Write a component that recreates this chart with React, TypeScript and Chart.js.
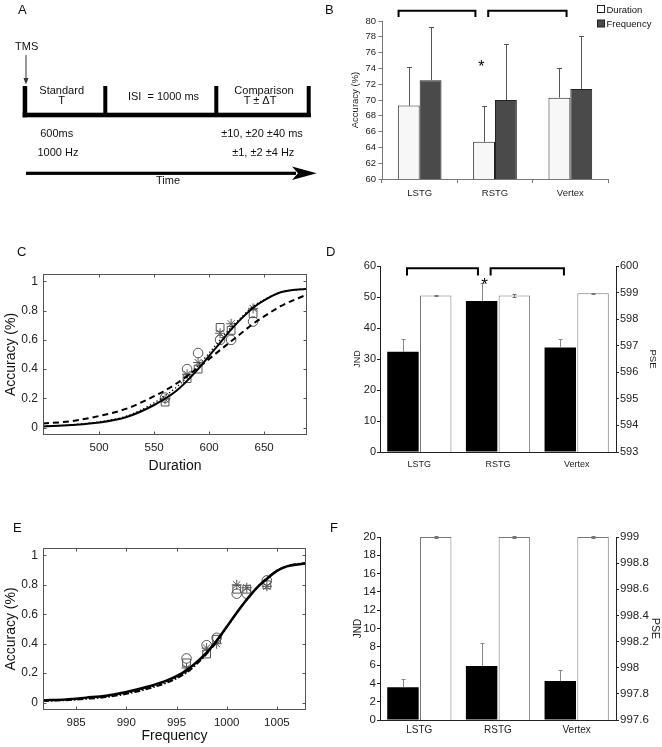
import React, { useEffect, useRef } from "react";
import { Chart, registerables } from "chart.js";

Chart.register(...registerables);

const FONT = "'Liberation Sans', Arial, Helvetica, sans-serif";
Chart.defaults.font.family = FONT;
Chart.defaults.color = "#222";

// ---------------- shared ----------------
const regions = ["LSTG", "RSTG", "Vertex"];
const accTicks = [0, 0.2, 0.4, 0.6, 0.8, 1];

// ---------------- Panel B ----------------
const bSeries = ["Duration", "Frequency"];
const bDuration = [69.3, 64.7, 70.3];
const bDurationErr = [4.9, 4.6, 3.7];
const bFrequency = [72.5, 70.0, 71.4];
const bFrequencyErr = [6.7, 7.1, 6.7];
const bYTicks = [60, 62, 64, 66, 68, 70, 72, 74, 76, 78, 80];
// [from index, to index, top value, end value]
const bBrackets = [
  [-0.28, 0.74, 81.3, 80.5],
  [0.91, 1.95, 81.3, 80.5],
];
const bStars = [[0.82, 74.7]];

// ---------------- Panel C ----------------
const cCurveX = [449, 475, 500, 525, 550, 570, 590, 600, 610, 620, 630, 640, 650, 665, 689];
const cSolid = [0.008, 0.018, 0.035, 0.073, 0.155, 0.25, 0.4, 0.49, 0.58, 0.67, 0.75, 0.82, 0.87, 0.925, 0.95];
const cDashed = [0.028, 0.045, 0.08, 0.13, 0.215, 0.3, 0.41, 0.47, 0.53, 0.59, 0.65, 0.71, 0.76, 0.83, 0.91];
const cDotted = [0.01, 0.02, 0.04, 0.08, 0.17, 0.275, 0.425, 0.51, 0.6, 0.685, 0.76, 0.83, 0.875, 0.925, 0.95];
const cPointX = [560, 580, 590, 610, 620, 640];
const cCircle = [0.205, 0.4, 0.51, 0.6, 0.6, 0.725];
const cSquare = [0.175, 0.335, 0.4, 0.685, 0.665, 0.78];
const cStar = [0.195, 0.365, 0.445, 0.645, 0.71, 0.815];
const cXTicks = [500, 550, 600, 650];

// ---------------- Panel D ----------------
const dJnd = [32.3, 48.7, 33.7];
const dJndErr = [4.3, 5.7, 2.9];
const dPse = [598.89, 598.89, 598.97];
const dPseErr = [0.03, 0.05, 0.02];
const dJndTicks = [0, 10, 20, 30, 40, 50, 60];
const dPseTicks = [593, 594, 595, 596, 597, 598, 599, 600];
const dBrackets = [
  [-0.157, 0.745, 59.26, 56.9],
  [0.906, 1.838, 59.26, 56.9],
];
const dStars = [[0.83, 55.6]];

// ---------------- Panel E ----------------
const eCurveX = [981.7, 984, 986, 988, 990, 992, 994, 995, 996, 997, 998, 999, 1000, 1001, 1002, 1003, 1004, 1005, 1006, 1007.9];
const eSolid = [0.016, 0.022, 0.034, 0.047, 0.072, 0.106, 0.15, 0.18, 0.22, 0.275, 0.34, 0.42, 0.515, 0.61, 0.7, 0.78, 0.84, 0.895, 0.925, 0.945];
const eDashDot = [0.012, 0.017, 0.026, 0.038, 0.06, 0.092, 0.135, 0.165, 0.205, 0.262, 0.332, 0.415, 0.512, 0.61, 0.7, 0.78, 0.845, 0.895, 0.927, 0.948];
const eDotted = [0.013, 0.019, 0.029, 0.042, 0.065, 0.098, 0.142, 0.172, 0.212, 0.268, 0.336, 0.418, 0.513, 0.61, 0.7, 0.78, 0.842, 0.895, 0.926, 0.947];
const ePointX = [996, 998, 999, 1001, 1002, 1004];
const eCircle = [0.3, 0.39, 0.44, 0.74, 0.74, 0.83];
const eSquare = [0.27, 0.33, 0.43, 0.77, 0.77, 0.8];
const eStar = [0.235, 0.37, 0.4, 0.8, 0.78, 0.79];
const eXTicks = [985, 990, 995, 1000, 1005];

// ---------------- Panel F ----------------
const fJnd = [3.58, 5.91, 4.27];
const fJndErr = [0.87, 2.48, 1.2];
const fPse = [999.0, 999.0, 999.0];
const fPseErr = [0.008, 0.005, 0.008];
const fJndTicks = [0, 2, 4, 6, 8, 10, 12, 14, 16, 18, 20];
const fPseTicks = [997.6, 997.8, 998, 998.2, 998.4, 998.6, 998.8, 999];

// ---------------- helpers ----------------
const pts = (xs: number[], ys: number[]) => xs.map((x, i) => ({ x, y: ys[i] }));
const fit = (size: number) => (scale: any) => {
  if (scale.isHorizontal()) scale.height = size;
  else scale.width = size;
};
const setTicks = (values: number[]) => (scale: any) => {
  scale.ticks = values.map((value) => ({ value }));
};
const plain = (v: any) => String(v);

const errorBarPlugin = {
  id: "errorBars",
  afterDatasetsDraw(chart: any) {
    const ctx = chart.ctx;
    chart.data.datasets.forEach((ds: any, di: number) => {
      if (!ds.errors) return;
      const meta = chart.getDatasetMeta(di);
      const ys = chart.scales[meta.yAxisID];
      meta.data.forEach((el: any, i: number) => {
        const v = ds.data[i];
        const e = ds.errors[i];
        const x = Math.round(el.x) + 0.5;
        const top = Math.round(ys.getPixelForValue(v + e)) + 0.5;
        const bot = ys.getPixelForValue(ds.errBoth ? v - e : v);
        const cap = ds.errCap ?? 2.5;
        ctx.save();
        ctx.strokeStyle = ds.errColor || "#555";
        ctx.lineWidth = 1;
        ctx.beginPath();
        ctx.moveTo(x, bot);
        ctx.lineTo(x, top);
        ctx.moveTo(x - cap, top);
        ctx.lineTo(x + cap, top);
        if (ds.errBoth) {
          const b = Math.round(bot) + 0.5;
          ctx.moveTo(x - cap, b);
          ctx.lineTo(x + cap, b);
        }
        ctx.stroke();
        ctx.restore();
      });
    });
  },
};

const makeAnnotations = (brackets: number[][], stars: number[][], starSize: number) => ({
  id: "annotations",
  afterDraw(chart: any) {
    const { ctx, scales } = chart;
    const xs = scales.x;
    const ys = scales.y;
    ctx.save();
    ctx.strokeStyle = "#000";
    ctx.lineWidth = 2;
    brackets.forEach(([a, b, yTop, yEnd]) => {
      const x0 = xs.getPixelForValue(a);
      const x1 = xs.getPixelForValue(b);
      const t = ys.getPixelForValue(yTop);
      const e = ys.getPixelForValue(yEnd);
      ctx.beginPath();
      ctx.moveTo(x0, e);
      ctx.lineTo(x0, t);
      ctx.lineTo(x1, t);
      ctx.lineTo(x1, e);
      ctx.stroke();
    });
    ctx.fillStyle = "#000";
    ctx.font = `${starSize}px ${FONT}`;
    ctx.textAlign = "center";
    ctx.textBaseline = "alphabetic";
    stars.forEach(([a, v]) => {
      ctx.fillText("*", xs.getPixelForValue(a), ys.getPixelForValue(v) + 0.58 * starSize);
    });
    ctx.restore();
  },
});

const boxPlugin = {
  id: "matlabBox",
  afterDraw(chart: any) {
    const { ctx, chartArea: a, scales } = chart;
    const x = scales.x;
    const y = scales.y;
    const L = 3;
    ctx.save();
    ctx.strokeStyle = "#555";
    ctx.lineWidth = 1;
    const l = Math.round(a.left) + 0.5;
    const t = Math.round(a.top) + 0.5;
    const r = Math.round(a.right) - 0.5;
    const b = Math.round(a.bottom) - 0.5;
    ctx.strokeRect(l, t, r - l, b - t);
    ctx.beginPath();
    x.ticks.forEach((tk: any) => {
      const p = Math.round(x.getPixelForValue(tk.value)) + 0.5;
      ctx.moveTo(p, b);
      ctx.lineTo(p, b - L);
      ctx.moveTo(p, t);
      ctx.lineTo(p, t + L);
    });
    y.ticks.forEach((tk: any) => {
      const p = Math.round(y.getPixelForValue(tk.value)) + 0.5;
      ctx.moveTo(l, p);
      ctx.lineTo(l + L, p);
      ctx.moveTo(r, p);
      ctx.lineTo(r - L, p);
    });
    ctx.stroke();
    ctx.restore();
  },
};

const baseOptions = () => ({
  responsive: false,
  animation: false as const,
  events: [],
  plugins: { legend: { display: false }, tooltip: { enabled: false } },
});

// ---------------- chart builders ----------------
function buildB(): any {
  return {
    type: "bar",
    data: {
      labels: regions,
      datasets: [
        {
          label: bSeries[0],
          data: bDuration,
          errors: bDurationErr,
          errColor: "#555",
          backgroundColor: "#f7f7f7",
          borderColor: "#222",
          borderWidth: 1,
          borderSkipped: false,
          categoryPercentage: 0.58,
          barPercentage: 1,
        },
        {
          label: bSeries[1],
          data: bFrequency,
          errors: bFrequencyErr,
          errColor: "#555",
          backgroundColor: "#4a4a4a",
          borderColor: "#222",
          borderWidth: 1,
          borderSkipped: false,
          categoryPercentage: 0.58,
          barPercentage: 1,
        },
      ],
    },
    options: {
      ...baseOptions(),
      layout: { padding: { left: 0, top: 21, right: 54, bottom: 0 } },
      scales: {
        x: {
          afterFit: fit(46),
          grid: { display: true, drawOnChartArea: false, drawTicks: true, tickLength: 4, color: "#777", offset: true },
          border: { display: true, color: "#777" },
          ticks: { font: { size: 9.5 }, padding: 5, color: "#222" },
        },
        y: {
          min: 60,
          max: 80,
          afterFit: fit(52),
          afterBuildTicks: setTicks(bYTicks),
          grid: { drawOnChartArea: false, drawTicks: true, tickLength: 3.5, color: "#777" },
          border: { display: true, color: "#777" },
          ticks: { font: { size: 9.5 }, padding: 2.5, callback: plain, color: "#222" },
          title: { display: true, text: "Accuracy (%)", font: { size: 9.5 }, color: "#222", padding: { top: 19.3, bottom: 0 } },
        },
      },
    },
    plugins: [errorBarPlugin, makeAnnotations(bBrackets, bStars, 16)],
  };
}

function curveSet(xs: number[], solid: number[], second: number[], third: number[], secondDash: number[], thirdDash: number[], solidW: number) {
  return [
    { data: pts(xs, solid), showLine: true, borderColor: "#000", borderWidth: solidW, pointRadius: 0, cubicInterpolationMode: "monotone", fill: false },
    { data: pts(xs, second), showLine: true, borderColor: "#000", borderWidth: 2, borderDash: secondDash, pointRadius: 0, cubicInterpolationMode: "monotone", fill: false },
    { data: pts(xs, third), showLine: true, borderColor: "#000", borderWidth: 1.3, borderDash: thirdDash, pointRadius: 0, cubicInterpolationMode: "monotone", fill: false },
  ];
}

function markerSet(xs: number[], circ: number[], sq: number[], st: number[]) {
  const common = { showLine: false, borderColor: "#555", backgroundColor: "rgba(0,0,0,0)", pointBorderWidth: 1, borderWidth: 1 };
  return [
    { ...common, data: pts(xs, circ), pointStyle: "circle", pointRadius: 4.8 },
    { ...common, data: pts(xs, sq), pointStyle: "rect", pointRadius: 5.5 },
    { ...common, data: pts(xs, st), pointStyle: "star", pointRadius: 5 },
  ];
}

function psychoOptions(xMin: number, xMax: number, xTicks: number[], xTitle: string, padTop: number, padRight: number, xH: number, titlePadBottom: number) {
  return {
    ...baseOptions(),
    layout: { padding: { left: 0, top: padTop, right: padRight, bottom: 0 } },
    scales: {
      x: {
        type: "linear",
        min: xMin,
        max: xMax,
        afterFit: fit(xH),
        afterBuildTicks: setTicks(xTicks),
        grid: { display: false, drawTicks: false },
        border: { display: false },
        ticks: { font: { size: 11.5 }, padding: 5.5, callback: plain, color: "#222" },
        title: { display: true, text: xTitle, font: { size: 14 }, color: "#111", padding: { top: 0, bottom: titlePadBottom } },
      },
      y: {
        type: "linear",
        min: -0.05,
        max: 1.05,
        afterFit: fit(43),
        afterBuildTicks: setTicks(accTicks),
        grid: { display: false, drawTicks: false },
        border: { display: false },
        ticks: { font: { size: 12 }, padding: 5, callback: plain, color: "#222" },
        title: { display: true, text: "Accuracy (%)", font: { size: 14 }, color: "#111", padding: { top: 2.6, bottom: 0 } },
      },
    },
  };
}

function buildC(): any {
  return {
    type: "scatter",
    data: {
      datasets: [
        ...curveSet(cCurveX, cSolid, cDashed, cDotted, [6, 4], [1.3, 2.5], 2),
        ...markerSet(cPointX, cCircle, cSquare, cStar),
      ],
    },
    options: psychoOptions(449, 689, cXTicks, "Duration", 49, 23, 40, 0),
    plugins: [boxPlugin],
  };
}

function buildE(): any {
  return {
    type: "scatter",
    data: {
      datasets: [
        ...curveSet(eCurveX, eSolid, eDashDot, eDotted, [6, 2, 1.5, 2], [1.3, 2.5], 2.5),
        ...markerSet(ePointX, eCircle, eSquare, eStar),
      ],
    },
    options: psychoOptions(981.7, 1007.9, eXTicks, "Frequency", 68, 24, 37, 2),
    plugins: [boxPlugin],
  };
}

function jndPseChart(
  jnd: number[], jndErr: number[], pse: number[], pseErr: number[],
  jndTicks: number[], pseTicks: number[], padTop: number, xH: number,
  xFont: number, xPad: number, tickFont: number, titleFont: number,
  jndPad: number, psePad: number, extra: any[]
): any {
  return {
    type: "bar",
    data: {
      labels: regions,
      datasets: [
        {
          label: "JND",
          data: jnd,
          yAxisID: "y",
          errors: jndErr,
          errColor: "#888",
          errCap: 2,
          backgroundColor: "#000",
          borderColor: "#000",
          borderWidth: 0,
          categoryPercentage: 0.833,
          barPercentage: 0.96,
        },
        {
          label: "PSE",
          data: pse,
          yAxisID: "y1",
          errors: pseErr,
          errBoth: true,
          errColor: "#777",
          errCap: 2,
          backgroundColor: "#fff",
          borderColor: "#777",
          borderWidth: 1,
          borderSkipped: false,
          categoryPercentage: 0.833,
          barPercentage: 0.96,
        },
      ],
    },
    options: {
      ...baseOptions(),
      layout: { padding: { left: 0, top: padTop, right: 0, bottom: 0 } },
      scales: {
        x: {
          afterFit: fit(xH),
          grid: { display: false, drawTicks: false },
          border: { display: true, color: "#222" },
          ticks: { font: { size: xFont }, padding: xPad, color: "#222" },
        },
        y: {
          position: "left",
          min: jndTicks[0],
          max: jndTicks[jndTicks.length - 1],
          afterFit: fit(50),
          afterBuildTicks: setTicks(jndTicks),
          grid: { drawOnChartArea: false, drawTicks: true, tickLength: 3, color: "#222" },
          border: { display: true, color: "#222" },
          ticks: { font: { size: tickFont }, padding: 1, callback: plain, color: "#222" },
          title: { display: true, text: "JND", font: { size: titleFont }, color: "#222", padding: { top: jndPad, bottom: 0 } },
        },
        y1: {
          position: "right",
          min: pseTicks[0],
          max: pseTicks[pseTicks.length - 1],
          afterFit: fit(46),
          afterBuildTicks: setTicks(pseTicks),
          grid: { drawOnChartArea: false, drawTicks: true, tickLength: 3, color: "#222" },
          border: { display: true, color: "#222" },
          ticks: { font: { size: tickFont }, padding: 1, callback: plain, color: "#222" },
          title: { display: true, text: "PSE", font: { size: titleFont + 0.5 }, color: "#222", padding: { top: psePad, bottom: 0 } },
        },
      },
    },
    plugins: [errorBarPlugin, ...extra],
  };
}

function buildD(): any {
  return jndPseChart(dJnd, dJndErr, dPse, dPseErr, dJndTicks, dPseTicks, 41, 23, 9, 7, 11, 9, 22.6, 3.3, [makeAnnotations(dBrackets, dStars, 17)]);
}

function buildF(): any {
  return jndPseChart(fJnd, fJndErr, fPse, fPseErr, fJndTicks, fPseTicks, 57, 27, 10, 4, 11.5, 10, 22, 1, []);
}

function ChartCanvas({ left, top, width, height, build }: { left: number; top: number; width: number; height: number; build: () => any }) {
  const ref = useRef<HTMLCanvasElement | null>(null);
  useEffect(() => {
    if (!ref.current) return;
    const chart = new Chart(ref.current, build());
    return () => chart.destroy();
  }, [build]);
  return (
    <canvas
      ref={ref}
      width={width}
      height={height}
      style={{ position: "absolute", left, top, width, height, display: "block" }}
    />
  );
}

function T({ x, y, size = 11, anchor = "middle", children }: { x: number; y: number; size?: number; anchor?: string; children: any }) {
  return (
    <text x={x} y={y} fontSize={size} textAnchor={anchor as any} fill="#111" style={{ whiteSpace: "pre" }}>
      {children}
    </text>
  );
}

function Overlay() {
  return (
    <svg
      width={662}
      height={747}
      style={{ position: "absolute", left: 0, top: 0, pointerEvents: "none" }}
      fontFamily="Liberation Sans, Arial, Helvetica, sans-serif"
    >
      {/* panel letters */}
      <T x={18} y={14} size={13} anchor="start">A</T>
      <T x={325} y={14} size={13} anchor="start">B</T>
      <T x={17} y={255.5} size={13} anchor="start">C</T>
      <T x={326} y={255.5} size={13} anchor="start">D</T>
      <T x={13} y={531.5} size={13} anchor="start">E</T>
      <T x={330} y={531.5} size={13} anchor="start">F</T>

      {/* Panel A: trial schematic */}
      <T x={15} y={50} anchor="start">TMS</T>
      <line x1={26} y1={55} x2={26} y2={80} stroke="#333" strokeWidth={1} />
      <polygon points="23.5,78 28.5,78 26,84.5" fill="#333" />
      <rect x={22.7} y={86} width={4.5} height={31.3} fill="#000" />
      <rect x={103.3} y={86} width={4} height={31} fill="#000" />
      <rect x={214.3} y={86} width={4} height={31} fill="#000" />
      <rect x={306.7} y={86} width={4} height={31} fill="#000" />
      <rect x={22.7} y={112.7} width={288} height={4.6} fill="#000" />
      <T x={61.7} y={94}>Standard</T>
      <T x={61.7} y={104}>T</T>
      <T x={163.5} y={100}>{"ISI  = 1000 ms"}</T>
      <T x={264} y={93.5}>Comparison</T>
      <T x={260} y={104}>T ± ΔT</T>
      <T x={56.7} y={137.3}>600ms</T>
      <T x={58} y={156}>1000 Hz</T>
      <T x={262} y={137.3}>±10, ±20 ±40 ms</T>
      <T x={263.3} y={156}>±1, ±2 ±4 Hz</T>
      <rect x={26} y={171.7} width={270} height={3.2} fill="#000" />
      <polygon points="292,166.5 316.7,173.3 292,180 298,173.3" fill="#000" />
      <T x={168} y={183.5}>Time</T>

      {/* Panel B legend */}
      <rect x={597.5} y={5.5} width={7} height={7} fill="#fff" stroke="#222" strokeWidth={1} />
      <T x={606.5} y={12.5} size={9.5} anchor="start">{bSeries[0]}</T>
      <rect x={597.5} y={20} width={7} height={7} fill="#4a4a4a" stroke="#222" strokeWidth={1} />
      <T x={606.5} y={27} size={9.5} anchor="start">{bSeries[1]}</T>
    </svg>
  );
}

export default function App() {
  return (
    <div style={{ position: "absolute", left: 0, top: 0, width: 662, height: 747, background: "#fff", overflow: "hidden" }}>
      <ChartCanvas left={330} top={0} width={332} height={225} build={buildB} />
      <ChartCanvas left={0} top={225} width={330} height={250} build={buildC} />
      <ChartCanvas left={330} top={225} width={332} height={250} build={buildD} />
      <ChartCanvas left={0} top={480} width={330} height={267} build={buildE} />
      <ChartCanvas left={330} top={480} width={332} height={267} build={buildF} />
      <Overlay />
    </div>
  );
}
